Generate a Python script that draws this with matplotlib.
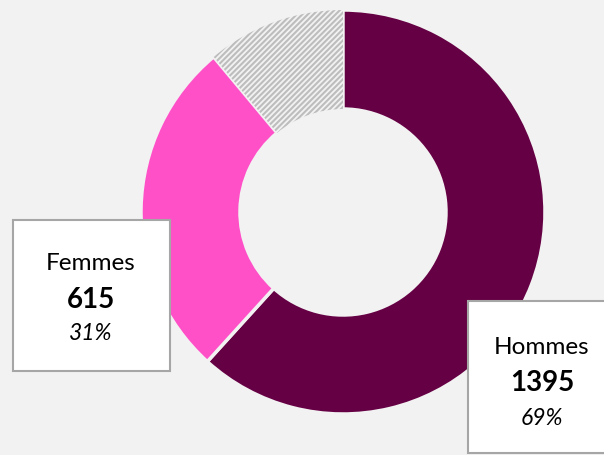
import matplotlib.pyplot as plt
from matplotlib.patches import Rectangle

# Data
labels = ['Hommes', 'Femmes', 'Non renseigné']
values = [1395, 615, 250]
colors = ['#660044', '#ff50c8', '#f2f2f2']

bg = '#f2f2f2'
plt.rcParams['hatch.linewidth'] = 1.5
plt.rcParams['font.family'] = ['Lato', 'DejaVu Sans']

W, H = 604, 456
fig = plt.figure(figsize=(W / 100, H / 100), dpi=100, facecolor=bg)
ax = fig.add_axes([0, 0, 1, 1])
ax.set_facecolor(bg)

# Donut, starting at 12 o'clock and going clockwise
wedges, _ = ax.pie(values, colors=colors, startangle=90, counterclock=False,
                   center=(343, H - 213), radius=202,
                   wedgeprops=dict(width=99, edgecolor=bg, linewidth=2.5))

# Hatched segment (unknown gender)
wedges[2].set_hatch('//////')
wedges[2].set_edgecolor('#bdbdbd')
wedges[2].set_linewidth(0)

ax.set_xlim(0, W)
ax.set_ylim(0, H)
ax.set_aspect('equal')
ax.axis('off')

total = values[0] + values[1]

# Label boxes
boxes = [
    # (label index, box x, box y top, box w, box h, text center x, y's)
    (1, 13, 221, 157, 151, 91, (263, 300, 333)),
    (0, 468, 302, 157, 152, 542, (348, 383, 419)),
]
for i, bx, by, bw, bh, tx, (y1, y2, y3) in boxes:
    ax.add_patch(Rectangle((bx, H - by - bh), bw, bh, facecolor='white',
                           edgecolor='#a6a6a6', linewidth=1.5, zorder=5,
                           clip_on=False))
    ax.text(tx, H - y1, labels[i], ha='center', va='center',
            fontsize=17.5, color='black', zorder=6)
    ax.text(tx, H - y2, str(values[i]), ha='center', va='center',
            fontsize=20, fontweight='bold', color='black', zorder=6)
    ax.text(tx, H - y3, f'{values[i] / total:.0%}', ha='center', va='center',
            fontsize=16.5, fontstyle='italic', color='black', zorder=6)

plt.savefig('out.png', dpi=100, facecolor=bg)
